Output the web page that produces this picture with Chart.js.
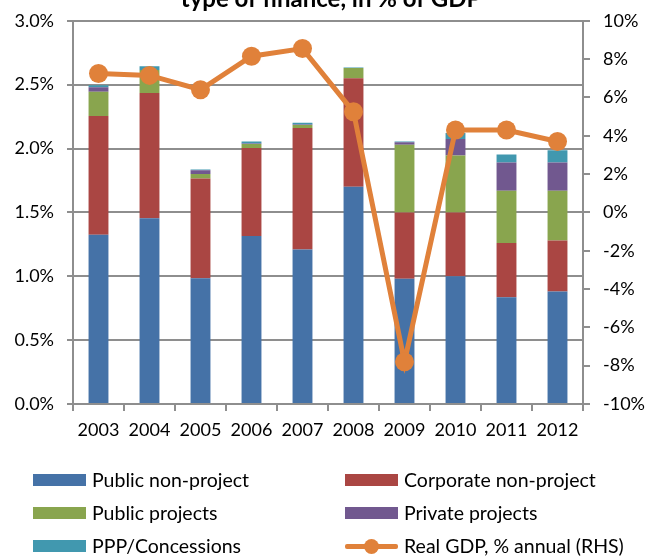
<!doctype html>
<html>
<head>
    <meta charset="utf-8">
    <title>Infrastructure finance by type</title>
    <script src="https://cdn.jsdelivr.net/npm/chart.js@4"></script>
    <style>
    body { margin: 0; background: #fff; }
    #wrap { position: relative; width: 645px; height: 556px; overflow: hidden; }
    #canvas { position: absolute; left: 0; top: -3px; }
    #legend { position: absolute; left: 0; top: 0; width: 645px; height: 556px; pointer-events: none;
              font-family: Lato, "Open Sans", sans-serif; font-size: 19.5px; color: #000; }
    .item { position: absolute; height: 24px; line-height: 24px; white-space: nowrap; }
    .box { position: absolute; left: 0; top: 6px; width: 53px; height: 12px; }
    .lab { position: absolute; left: 59px; top: 0; }
    </style>
</head>
<body>
<div id="wrap">
    <canvas id="canvas" width="645" height="559"></canvas>
    <div id="legend"></div>
</div>
<script>
    var years = ['2003', '2004', '2005', '2006', '2007', '2008', '2009', '2010', '2011', '2012'];

    // % of GDP, left axis
    var publicNonProject    = [1.325, 1.455, 0.985, 1.315, 1.21, 1.70, 0.98, 1.00, 0.835, 0.88];
    var corporateNonProject = [0.93, 0.98, 0.78, 0.69, 0.95, 0.85, 0.52, 0.50, 0.425, 0.40];
    var publicProjects      = [0.19, 0.18, 0.035, 0.03, 0.025, 0.08, 0.53, 0.445, 0.41, 0.39];
    var privateProjects     = [0.035, 0, 0.03, 0.005, 0.003, 0, 0.02, 0.13, 0.22, 0.22];
    var pppConcessions      = [0.015, 0.03, 0.005, 0.015, 0.013, 0.005, 0.005, 0.047, 0.063, 0.097];

    // real GDP growth, % annual, right axis
    var realGdp = [7.25, 7.15, 6.4, 8.15, 8.55, 5.25, -7.8, 4.3, 4.3, 3.7];

    var titleText = 'type of finance, in % of GDP';
    var gridColor = '#8e8e8e';
    var fontFamily = 'Lato, "Open Sans", sans-serif';

    function bar(label, data, color) {
        return {
            type: 'bar', label: label, data: data, backgroundColor: color,
            yAxisID: 'y', order: 1, categoryPercentage: 1, barPercentage: 0.39
        };
    }

    var datasets = [
        bar('Public non-project', publicNonProject, '#4572A7'),
        bar('Corporate non-project', corporateNonProject, '#AA4643'),
        bar('Public projects', publicProjects, '#89A54E'),
        bar('Private projects', privateProjects, '#71588F'),
        bar('PPP/Concessions', pppConcessions, '#4198AF'),
        {
            type: 'line', label: 'Real GDP, % annual (RHS)', data: realGdp,
            yAxisID: 'y1', order: 0, borderColor: '#E0813A', backgroundColor: '#E0813A',
            borderWidth: 5, pointRadius: 9.5, pointHoverRadius: 9.5, pointBorderWidth: 0, tension: 0
        }
    ];

    // partly cut-off title at the very top
    var titlePlugin = {
        id: 'cutTitle',
        afterDraw: function (chart) {
            var ctx = chart.ctx;
            ctx.save();
            ctx.font = 'bold 24px ' + fontFamily;
            ctx.fillStyle = '#000';
            ctx.textAlign = 'center';
            ctx.textBaseline = 'alphabetic';
            ctx.fillText(titleText, 331, 10);
            ctx.restore();
        }
    };

    Chart.defaults.font.family = fontFamily;
    Chart.defaults.font.size = 18;
    Chart.defaults.color = '#000';

    var chart = new Chart(document.getElementById('canvas').getContext('2d'), {
        data: { labels: years, datasets: datasets },
        plugins: [titlePlugin],
        options: {
            responsive: false,
            animation: false,
            layout: { padding: { top: 16, left: 0, right: 0, bottom: 0 } },
            plugins: { legend: { display: false }, title: { display: false }, tooltip: { enabled: false } },
            scales: {
                x: {
                    stacked: true,
                    offset: true,
                    grid: { offset: true, drawOnChartArea: false, color: gridColor, lineWidth: 2, tickLength: 7 },
                    border: { color: gridColor, width: 2 },
                    ticks: { padding: 8, maxRotation: 0, autoSkip: false },
                    afterFit: function (s) { s.height = 152; }
                },
                y: {
                    position: 'left', stacked: true, min: 0, max: 3,
                    ticks: { stepSize: 0.5, padding: 13, callback: function (v) { return v.toFixed(1) + '%'; } },
                    grid: { color: gridColor, lineWidth: 2, tickLength: 6 },
                    border: { color: gridColor, width: 2 },
                    afterFit: function (s) { s.width = 73; }
                },
                y1: {
                    position: 'right', min: -10, max: 10,
                    ticks: { stepSize: 2, padding: 13, callback: function (v) { return v.toFixed(0) + '%'; } },
                    grid: { drawOnChartArea: false, color: gridColor, lineWidth: 2, tickLength: 7 },
                    border: { color: gridColor, width: 2 },
                    afterFit: function (s) { s.width = 62; }
                }
            }
        }
    });

    // two-column legend under the chart
    var legend = document.getElementById('legend');
    chart.data.datasets.forEach(function (ds, i) {
        var col = i % 2, row = Math.floor(i / 2);
        var item = document.createElement('div');
        item.className = 'item';
        item.style.left = (col ? 345 : 33) + 'px';
        item.style.top = (468 + row * 33) + 'px';
        var mark = '';
        if (ds.type === 'line') {
            mark = '<div style="position:absolute;left:0;top:10px;width:53px;height:5px;background:' + ds.borderColor + ';border-radius:2px"></div>' +
                   '<div style="position:absolute;left:19px;top:5px;width:15px;height:15px;border-radius:50%;background:' + ds.borderColor + '"></div>';
        } else {
            mark = '<div class="box" style="background:' + ds.backgroundColor + '"></div>';
        }
        item.innerHTML = mark + '<span class="lab">' + ds.label + '</span>';
        legend.appendChild(item);
    });
</script>
</body>
</html>
